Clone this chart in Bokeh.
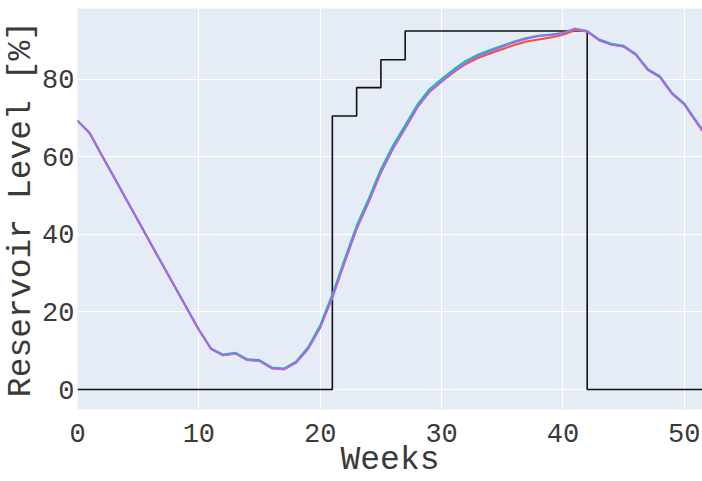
from bokeh.plotting import figure
from bokeh.models import FixedTicker, Range1d
from bokeh.embed import file_html
from bokeh.resources import INLINE

weeks = list(range(53))

purple = [69.3, 66.1, 60.4, 54.8, 49.1, 43.5, 37.8, 32.2, 26.6, 21.0,
          15.4, 10.5, 8.8, 9.3, 7.6, 7.4, 5.5, 5.2, 6.9, 10.5,
          16.0, 23.8, 32.8, 41.5, 48.5, 56.0, 62.2, 67.4, 72.8, 76.8,
          79.4, 82.0, 84.2, 85.9, 87.1, 88.3, 89.5, 90.4, 91.1, 91.4,
          91.8, 93.0, 92.3, 90.0, 88.9, 88.4, 86.3, 82.4, 80.5, 76.2,
          73.5, 68.9, 64.5]

red = [69.3, 66.1, 60.4, 54.8, 49.1, 43.5, 37.8, 32.2, 26.6, 21.0,
       15.4, 10.5, 8.8, 9.3, 7.6, 7.4, 5.5, 5.2, 6.9, 10.5,
       16.0, 23.7, 32.7, 41.4, 48.4, 55.9, 62.1, 67.3, 72.7, 76.7,
       79.3, 81.8, 83.9, 85.4, 86.6, 87.7, 88.8, 89.7, 90.2, 90.7,
       91.4, 92.6, 92.3, 90.0, 88.9, 88.4, 86.3, 82.4, 80.5, 76.2,
       73.5, 68.9, 64.5]

green = [69.3, 66.1, 60.4, 54.8, 49.1, 43.5, 37.8, 32.2, 26.6, 21.0,
         15.4, 10.6, 9.0, 9.5, 7.8, 7.6, 5.7, 5.4, 7.2, 10.9,
         16.6, 24.5, 33.5, 42.2, 49.2, 56.8, 62.9, 68.1, 73.4, 77.4,
         80.0, 82.5, 84.7, 86.3, 87.5, 88.6, 89.7, 90.6, 91.2, 91.5,
         91.9, 93.0, 92.4, 90.2, 89.1, 88.6, 86.5, 82.6, 80.7, 76.4,
         73.7, 69.1, 64.7]

step_weeks = [0, 21, 21, 23, 23, 25, 25, 27, 27, 42, 42, 52]
step_level = [0, 0, 70.5, 70.5, 77.8, 77.8, 85.0, 85.0, 92.4, 92.4, 0, 0]

x_ticks = [0, 10, 20, 30, 40, 50]
y_ticks = [0, 20, 40, 60, 80]

FONT = "Liberation Mono"
TXT = "#3a3a3a"

p = figure(width=702, height=481,
           x_range=Range1d(0, 51.5), y_range=Range1d(-5.15, 98.2),
           output_backend="svg", toolbar_location=None,
           min_border_left=77, min_border_bottom=72,
           min_border_top=8, min_border_right=0)

p.background_fill_color = "#E5ECF6"
p.border_fill_color = "white"
p.outline_line_color = None

p.line(step_weeks, step_level, line_color="#111111", line_width=1.6)
p.line(weeks, red, line_color="#EF553B", line_width=2)
p.line(weeks, green, line_color="#00CC96", line_width=2)
p.line(weeks, purple, line_color="#AB63FA", line_width=2)

p.xaxis.ticker = FixedTicker(ticks=x_ticks)
p.yaxis.ticker = FixedTicker(ticks=y_ticks)
p.xgrid.ticker = FixedTicker(ticks=x_ticks)
p.ygrid.ticker = FixedTicker(ticks=y_ticks)
p.grid.grid_line_color = "white"
p.grid.grid_line_width = 1

for ax in (p.xaxis, p.yaxis):
    ax.axis_line_color = None
    ax.major_tick_line_color = None
    ax.minor_tick_line_color = None
    ax.major_tick_out = 0
    ax.major_tick_in = 0
    ax.minor_tick_out = 0
    ax.minor_tick_in = 0
    ax.major_label_text_font = FONT
    ax.major_label_text_font_size = "27px"
    ax.major_label_text_color = TXT
    ax.axis_label_text_font = FONT
    ax.axis_label_text_font_size = "33px"
    ax.axis_label_text_font_style = "normal"
    ax.axis_label_text_color = TXT

p.xaxis.axis_label = "Weeks"
p.yaxis.axis_label = "Reservoir Level [%]"
p.xaxis.major_label_standoff = 14
p.xaxis.axis_label_standoff = -3
p.yaxis.major_label_standoff = 3
p.yaxis.axis_label_standoff = -1

open("out.html", "w").write(file_html(p, INLINE))
